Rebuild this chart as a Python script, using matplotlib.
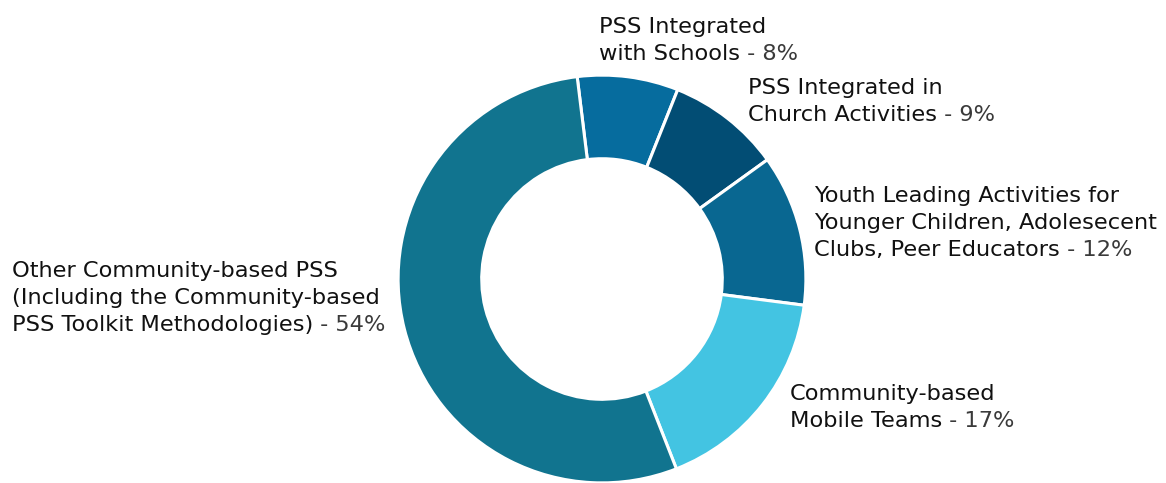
import matplotlib
matplotlib.use("Agg")
import matplotlib.pyplot as plt

categories = [
    "PSS Integrated\nwith Schools",
    "PSS Integrated in\nChurch Activities",
    "Youth Leading Activities for\nYounger Children, Adolesecent\nClubs, Peer Educators",
    "Community-based\nMobile Teams",
    "Other Community-based PSS\n(Including the Community-based\nPSS Toolkit Methodologies)",
]
values = [8, 9, 12, 17, 54]
colors = ["#066c9e", "#024d74", "#096791", "#43c4e2", "#11748f"]

W, H = 1166, 483
fig = plt.figure(figsize=(W / 100, H / 100), dpi=100)
fig.patch.set_facecolor("white")

cx, cy, half = 602, 279, 210
ax = fig.add_axes([(cx - half) / W, 1 - (cy + half) / H, 2 * half / W, 2 * half / H])
ax.pie(values, colors=colors, startangle=97, counterclock=False, radius=1.0,
       wedgeprops=dict(width=0.41, edgecolor="white", linewidth=2.2))
ax.set_xlim(-1.03, 1.03)
ax.set_ylim(-1.03, 1.03)
ax.set_aspect("equal")
ax.axis("off")

# label anchors: (left x px, first baseline y px from top)
anchors = [(599, 33), (748, 94), (814, 202), (790, 400), (12, 277)]
line_gap = 27
fs = 16.2
main_font = dict(family="DejaVu Sans", size=fs, color="#111111")
pct_font = dict(family="DejaVu Sans", size=fs, color="#3a3a3a")

renderer = fig.canvas.get_renderer()
for label, v, (x, y) in zip(categories, values, anchors):
    lines = label.split("\n")
    for i, ln in enumerate(lines):
        yy = y + i * line_gap
        t = fig.text(x / W, 1 - yy / H, ln, ha="left", va="baseline", **main_font)
        if i == len(lines) - 1:
            bb = t.get_window_extent(renderer=renderer)
            fig.text(bb.x1 / W, 1 - yy / H, f" - {v}%", ha="left", va="baseline", **pct_font)

fig.savefig("out.png", dpi=100, facecolor="white")
